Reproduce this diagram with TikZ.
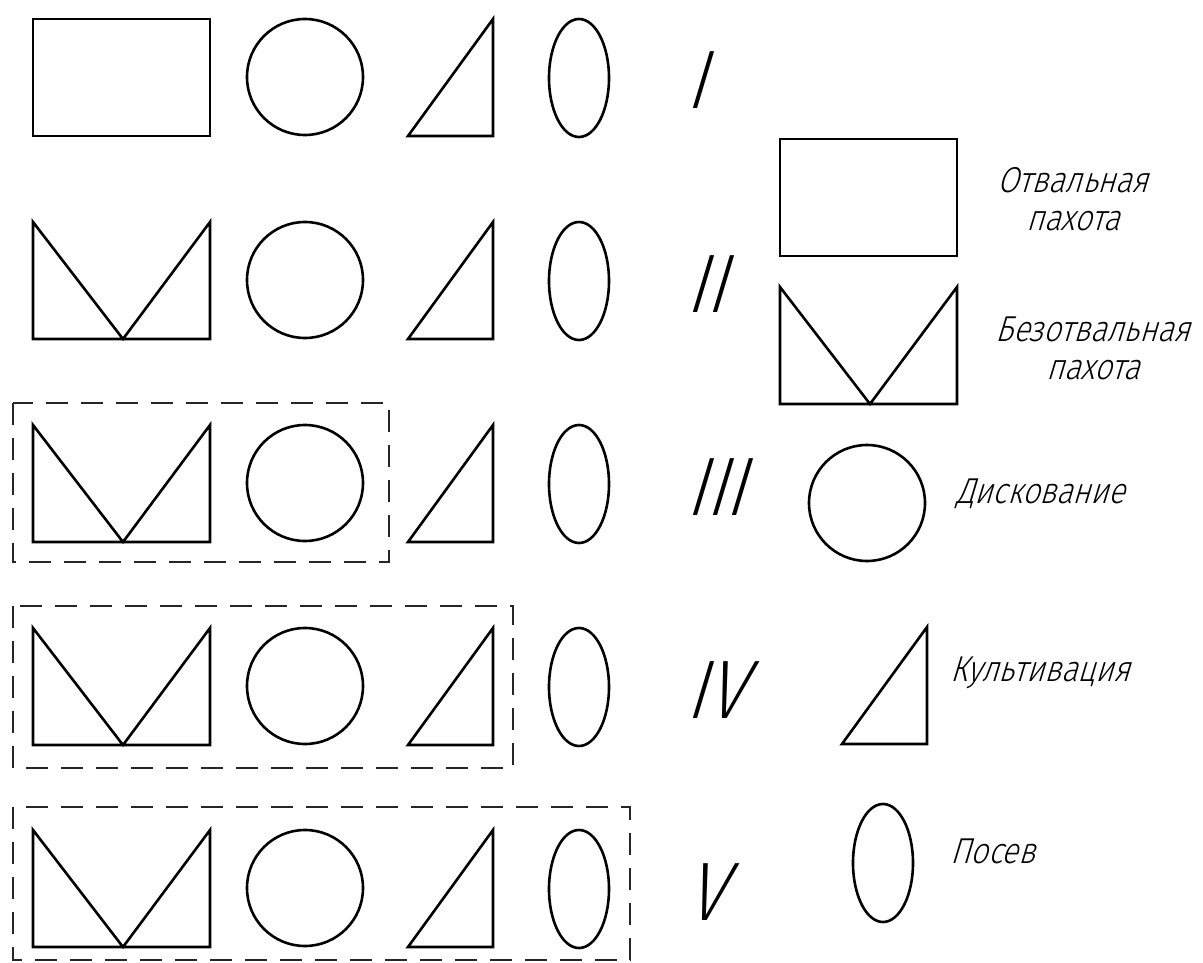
\documentclass[tikz,border=0pt]{standalone}
\usepackage{fontspec}
\usepackage{tikz}
\usetikzlibrary{shapes.geometric}
\IfFontExistsTF{Fira Sans Light}
  {\newfontfamily\gost{Fira Sans Light}[FakeSlant=0.3,FakeStretch=0.85]}
  {\IfFontExistsTF{Lato Light}
    {\newfontfamily\gost{Lato Light}[FakeSlant=0.3,FakeStretch=0.85]}
    {\IfFontExistsTF{Open Sans Light}
      {\newfontfamily\gost{Open Sans Light}[FakeSlant=0.3,FakeStretch=0.85]}
      {\newfontfamily\gost{Fira Sans}[FakeSlant=0.3,FakeStretch=0.85]}}}

\begin{document}
\begin{tikzpicture}[
    x=1pt, y=-1pt,
    shp/.style={draw=black, line width=2.6pt},
    grp/.style={draw=black!85, line width=1.8pt, dash pattern=on 22pt off 13pt},
    num/.style={font=\gost\fontsize{83}{90}\selectfont, anchor=base west, inner sep=0pt},
    lbl/.style={font=\gost\fontsize{36}{38}\selectfont, inner sep=0pt, align=center},
    plough/.pic={\draw[shp] (0,0) rectangle (177,117);},
    noplough/.pic={\draw[shp] (0,0) -- (90,117) -- (177,0) -- (177,117) -- (0,117) -- cycle;},
    disc/.pic={\draw[shp] (58,58) circle[radius=58];},
    cultiv/.pic={\draw[shp] (0,117) -- (85,0) -- (85,117) -- cycle;},
    sowing/.pic={\draw[shp] (30,59) ellipse[x radius=30, y radius=59];}
]
\useasboundingbox (0,0) rectangle (1203,963);

% ряд I
\pic (r1a) at (33,19) {plough};
\pic (r1b) at (247,19) {disc};
\pic (r1c) at (408,19) {cultiv};
\pic (r1d) at (549,19) {sowing};
\node[num] (n1) at (685,109) {I};

% ряд II
\pic (r2a) at (33,222) {noplough};
\pic (r2b) at (247,222) {disc};
\pic (r2c) at (408,222) {cultiv};
\pic (r2d) at (549,222) {sowing};
\node[num] (n2) at (685,312) {II};

% ряд III
\pic (r3a) at (33,425) {noplough};
\pic (r3b) at (247,425) {disc};
\pic (r3c) at (408,425) {cultiv};
\pic (r3d) at (549,425) {sowing};
\node[num] (n3) at (685,515) {III};

% ряд IV
\pic (r4a) at (33,628) {noplough};
\pic (r4b) at (247,628) {disc};
\pic (r4c) at (408,628) {cultiv};
\pic (r4d) at (549,628) {sowing};
\node[num] (n4) at (685,718) {IV};

% ряд V
\pic (r5a) at (33,830) {noplough};
\pic (r5b) at (247,830) {disc};
\pic (r5c) at (408,830) {cultiv};
\pic (r5d) at (549,830) {sowing};
\node[num] (n5) at (685,920) {V};

% совмещённые операции
\draw[grp] (13,403) rectangle (389,562);
\draw[grp] (13,606) rectangle (513,768);
\draw[grp] (13,807) rectangle (630,960);

% условные обозначения
\pic (kotv) at (780,139) {plough};
\pic (kbez) at (780,287) {noplough};
\pic (kdisk) at (809,445) {disc};
\pic (kkult) at (842,627) {cultiv};
\pic (kposev) at (853,804) {sowing};

\node[lbl] (lotv) at (1073,199) {Отвальная\\пахота};
\node[lbl] (lbez) at (1093,348) {Безотвальная\\пахота};
\node[lbl, anchor=base west] (ldisk) at (956,503) {Дискование};
\node[lbl, anchor=base west] (lkult) at (950,681) {Культивация};
\node[lbl, anchor=base west] (lposev) at (950,863) {Посев};
\end{tikzpicture}
\end{document}
